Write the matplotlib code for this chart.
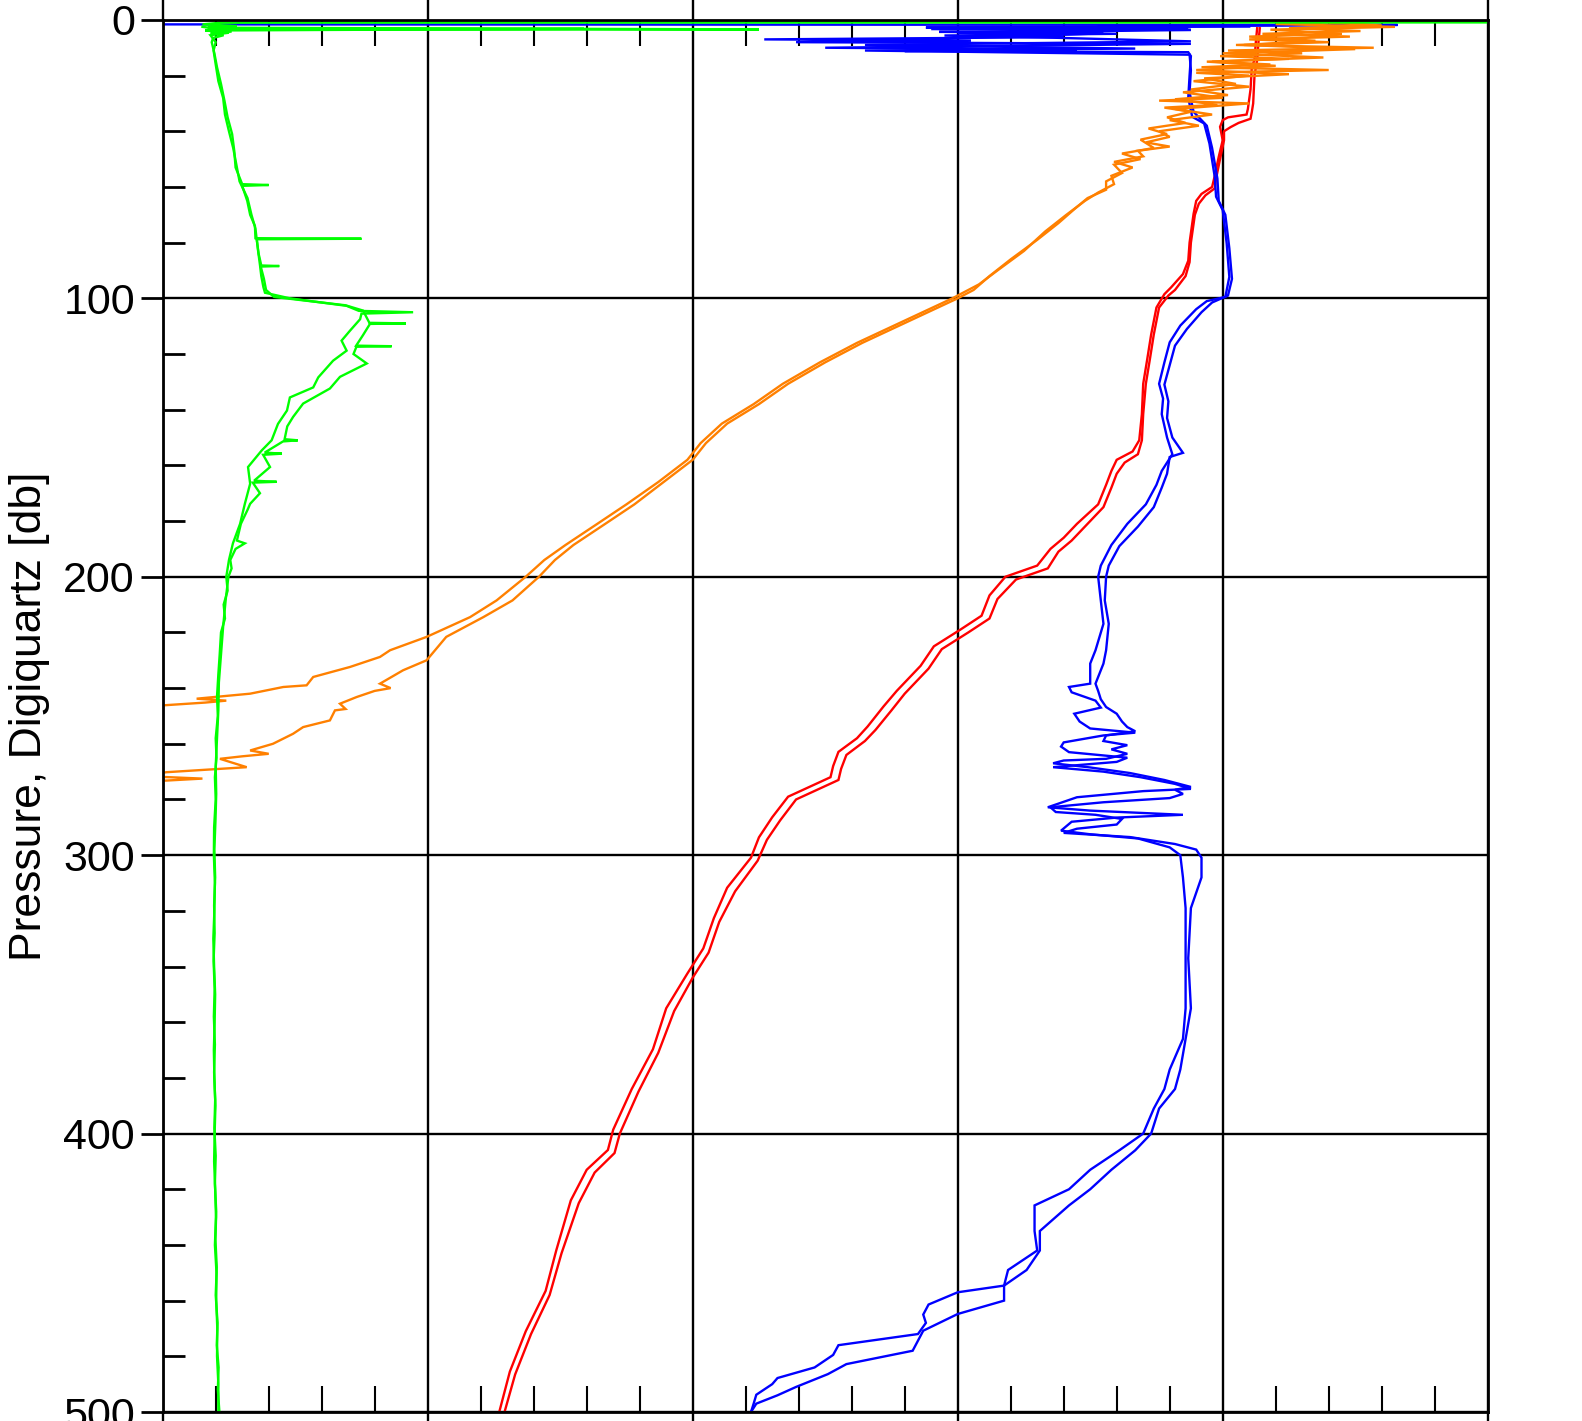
"""CTD cast: several sensor profiles against pressure (down- and upcast)."""

import matplotlib

matplotlib.use("Agg")
import matplotlib.pyplot as plt
import numpy as np
from matplotlib.ticker import MultipleLocator

plt.rcParams["font.family"] = ["Liberation Sans", "DejaVu Sans"]

# x values are in plot units (0..50, one grid division = 10); axis labels are off-frame
# each list holds (pressure [db], value) pairs

green_down = [
    (0.3, 55.0), (0.9, 55.0), (1.0, 2.2), (1.6, 1.5), (2.2, 2.8), (2.8, 1.7),
    (3.4, 22.5), (3.6, 1.9), (4.2, 2.6), (4.8, 1.8), (5.5, 2.3), (6.5, 1.9),
    (8, 1.85), (12, 1.95), (17, 2.05), (23, 2.2), (29, 2.33), (35, 2.45),
    (41, 2.62), (47, 2.7), (53, 2.75), (59, 3.0), (59.3, 4.0), (59.6, 3.0),
    (65, 3.19), (70, 3.3), (74, 3.48), (78.4, 3.5), (78.6, 7.5), (78.8, 3.55),
    (83, 3.6), (88, 3.67), (92, 3.72), (96, 3.8), (98, 3.86), (100, 4.8),
    (102.7, 6.94), (104.5, 7.4), (105, 9.45), (105.5, 7.5), (107.5, 7.45),
    (111.6, 7.07), (115.2, 6.75), (118.8, 6.94), (122.4, 6.43), (128.4, 5.87),
    (132, 5.68), (135.6, 4.8), (140.3, 4.69), (145.1, 4.35), (151, 4.11),
    (154.6, 3.74), (160.6, 3.22), (166.6, 3.3), (173.8, 3.1), (181, 2.92),
    (188, 2.65), (194, 2.5), (200, 2.4), (205, 2.45), (210, 2.3), (215, 2.35),
    (220, 2.2), (228, 2.15), (235, 2.1), (243, 2.05), (250, 2.08), (258, 2.0),
    (265, 2.03), (272, 1.97), (280, 2.0), (290, 1.94), (300, 1.93), (310, 1.97),
    (320, 1.95), (330, 1.91), (340, 1.94), (350, 1.98), (360, 1.96), (370, 1.93),
    (380, 1.95), (390, 1.99), (400, 1.96), (410, 1.94), (420, 1.98), (430, 2.01),
    (440, 1.97), (450, 2.03), (460, 2.02), (470, 2.06), (480, 2.05), (490, 2.1),
    (500, 2.1),
]

green_up = [
    (500, 2.14), (492, 2.08), (484, 2.11), (476, 2.04), (468, 2.07), (458, 2.0),
    (448, 2.04), (438, 1.99), (428, 2.02), (418, 1.97), (408, 2.0), (398, 1.95),
    (388, 1.98), (378, 1.94), (368, 1.97), (358, 1.93), (348, 1.96), (338, 1.92),
    (328, 1.96), (318, 1.94), (308, 1.98), (298, 1.95), (288, 1.99), (278, 2.02),
    (268, 2.0), (258, 2.05), (248, 2.1), (238, 2.12), (228, 2.2), (218, 2.28),
    (208, 2.38), (200, 2.48), (197, 2.6), (194, 2.55), (190, 2.75), (188, 3.1),
    (187, 2.8), (181, 2.95), (176, 3.2), (173.8, 3.3), (170, 3.67), (166.2, 3.4),
    (165.9, 4.3), (165.5, 3.45), (160.6, 4.05), (156.2, 3.79), (155.8, 4.5),
    (155.4, 3.85), (151.4, 4.54), (151, 5.1), (150.6, 4.6), (146, 4.7),
    (142.6, 4.92), (137.8, 5.3), (132.4, 6.31), (128.2, 6.69), (123.4, 7.7),
    (120, 7.2), (117.4, 7.31), (117.2, 8.64), (117, 7.3), (113.2, 7.56),
    (109.2, 7.82), (109, 9.18), (108.8, 7.8), (104.4, 7.56), (102.5, 6.9),
    (100.6, 5.18), (99.5, 4.2), (97, 3.9), (93, 3.82), (88.6, 3.7), (88.4, 4.4),
    (88.2, 3.72), (84, 3.62), (79, 3.55), (75, 3.5), (70, 3.35), (64, 3.2),
    (58, 2.9), (52, 2.78), (46, 2.66), (40, 2.5), (34, 2.35), (28, 2.28),
    (22, 2.1), (16, 2.0), (11, 1.92), (8, 2.0), (5.5, 1.8), (4.6, 2.5),
    (3.8, 1.6), (3.2, 15.9), (3.0, 1.9), (2.5, 1.5),
]

orange_a = [
    (0.6, 46.8), (1.0, 44.0), (2.0, 46.0), (3.0, 42.5), (4.0, 45.2), (5.0, 41.5),
    (6.0, 44.8), (7.0, 41.0), (8.0, 44.0), (9.0, 40.5), (10.0, 45.7), (11.0, 40.2),
    (12.0, 43.0), (13.0, 39.9), (14.0, 42.5), (15.0, 39.6), (16.0, 41.8),
    (17.0, 39.2), (18.0, 44.0), (19.0, 39.0), (20.0, 41.0), (22, 38.9),
    (24, 41.0), (26, 38.5), (28, 40.0), (29, 37.6), (30, 41.0), (32, 38.2),
    (34, 39.6), (36, 38.0), (38, 39.1), (40, 37.6), (42, 38.0), (44, 37.1),
    (45.5, 38.0), (47, 36.8), (49, 37.0), (51, 35.9), (53, 36.6), (56, 35.8),
    (59, 35.9), (62, 35.3), (65, 34.8), (70, 34.1), (76, 33.3), (83, 32.5),
    (90, 31.5), (95, 30.8), (100, 29.8), (108, 28.0), (116, 26.2), (123, 24.8),
    (130.7, 23.4), (138, 22.3), (145, 21.1), (152, 20.3), (158, 19.8),
    (166, 18.7), (174, 17.5), (181, 16.4), (188.6, 15.2), (194, 14.4),
    (200, 13.7), (208.5, 12.6), (214.5, 11.6), (221.6, 9.96), (226.4, 8.58),
    (228.8, 8.2), (232.4, 7.07), (236, 5.68), (239, 5.43), (239.6, 4.55),
    (242, 3.3), (243.8, 1.28), (244.5, 2.4), (245.2, 1.6), (246.2, 0.0),
    (247, -2.0),
]

orange_b = [
    (0.5, 45.5), (1.5, 42.0), (2.5, 46.5), (3.5, 41.8), (5.0, 44.5), (6.0, 41.0),
    (7.5, 43.5), (9.0, 40.8), (10.5, 45.0), (12.0, 40.0), (13.5, 43.8),
    (15.0, 39.4), (16.5, 42.0), (18.0, 39.0), (19.5, 42.5), (21, 39.3),
    (23, 40.5), (25, 38.8), (27, 40.2), (28.5, 38.2), (30.5, 39.8), (31.5, 37.8),
    (33, 38.8), (35, 37.9), (37, 38.6), (39, 37.2), (41, 37.9), (43, 36.9),
    (46, 37.4), (48, 36.2), (50, 36.9), (52, 35.9), (55, 36.2), (58, 35.6),
    (61, 35.6), (64, 34.9), (68, 34.4), (73, 33.8), (79, 33.0), (86, 32.0),
    (92, 31.2), (97, 30.6), (100, 30.0), (108, 28.2), (116, 26.4), (123, 25.0),
    (130.7, 23.6), (138, 22.5), (145, 21.3), (152, 20.5), (158, 20.0),
    (166, 18.9), (174, 17.8), (181, 16.7), (188.6, 15.5), (194, 14.8),
    (200, 14.2), (208.5, 13.2), (214.5, 12.1), (221.6, 10.7), (230, 9.96),
    (233.6, 9.07), (238.4, 8.2), (240, 8.6), (241, 8.0), (243.2, 7.32),
    (245.6, 6.69), (247.5, 6.9), (248, 6.5), (251.6, 6.31), (254, 5.3),
    (256.4, 4.92), (260, 4.16), (262.4, 3.3), (263.6, 4.0), (264.5, 3.0),
    (265.4, 2.16), (268.4, 3.17), (270.2, 0.15), (271.5, -1.0), (272.5, 1.5),
    (273.8, -1.0),
]

red_a = [
    (3, 41.3), (8, 41.25), (14.4, 41.2), (16.8, 41.1), (25, 41.05), (32, 40.95),
    (34, 40.9), (35, 40.2), (36, 40.0), (38.4, 39.9), (43.2, 40.0), (49.2, 39.85),
    (56, 39.7), (60, 39.6), (62.5, 39.2), (65, 39.0), (69.7, 38.9), (80, 38.75),
    (86.5, 38.7), (91.3, 38.5), (96.1, 38.05), (98.5, 37.8), (103.3, 37.5),
    (113, 37.3), (122, 37.15), (130.7, 37.0), (141.6, 36.95), (151, 36.85),
    (155, 36.6), (158, 36.0), (162, 35.8), (167, 35.6), (174, 35.3), (181, 34.5),
    (186, 34.0), (190, 33.5), (196, 33.0), (200, 31.8), (206.7, 31.2),
    (214, 30.9), (219, 30.1), (225, 29.1), (232, 28.6), (241, 27.7),
    (246.6, 27.2), (253.8, 26.6), (258, 26.2), (262.9, 25.5), (268, 25.3),
    (272, 25.2), (279, 23.6), (286.4, 23.0), (293.6, 22.5), (300.9, 22.2),
    (311.7, 21.3), (322.6, 20.8), (333.5, 20.4), (342.5, 19.8), (355, 19.0),
    (369.7, 18.5), (384, 17.7), (398.6, 17.0), (405.9, 16.8), (413, 16.0),
    (424, 15.4), (442, 14.85), (456.5, 14.45), (471, 13.7), (485.5, 13.1),
    (500, 12.7),
]

red_b = [
    (3, 41.4), (8, 41.35), (14.4, 41.3), (20, 41.2), (30, 41.15), (33, 41.1),
    (35.5, 41.05), (37, 40.6), (38.5, 40.3), (40, 40.05), (43.2, 40.05),
    (50, 39.9), (57, 39.75), (60.5, 39.7), (63, 39.35), (66, 39.1), (70, 38.95),
    (80, 38.8), (87, 38.75), (92, 38.6), (97, 38.2), (99, 37.95), (103.3, 37.6),
    (113, 37.4), (122, 37.25), (130.7, 37.1), (141.6, 37.0), (151, 36.95),
    (156, 36.8), (159, 36.3), (163, 36.0), (168, 35.8), (175, 35.5), (182, 34.8),
    (187, 34.3), (191, 33.8), (197, 33.4), (201, 32.2), (208, 31.5), (215, 31.2),
    (220, 30.4), (226, 29.4), (233, 28.9), (242, 28.0), (248, 27.5), (255, 26.9),
    (259, 26.5), (264, 25.8), (269, 25.6), (273, 25.5), (280, 23.9),
    (287.5, 23.3), (294.5, 22.8), (302, 22.45), (313, 21.6), (324, 21.0),
    (335, 20.6), (344, 20.0), (356, 19.3), (371, 18.7), (385, 17.95),
    (400, 17.25), (407, 17.05), (414, 16.3), (425, 15.7), (443, 15.05),
    (458, 14.6), (472, 13.9), (486.5, 13.3), (500, 12.9),
]

blue_a = [
    (1.6, -2.0), (1.8, 46.6), (2.2, 39.0), (3.3, 29.0), (3.6, 38.8), (4.2, 33.9),
    (4.6, 30.0), (5.0, 36.0), (5.6, 29.5), (6.2, 34.0), (7.0, 22.7), (7.4, 30.5),
    (8.0, 23.9), (8.6, 38.8), (10.0, 25.0), (10.6, 34.5), (11.2, 28.0),
    (11.6, 38.7), (13, 38.8), (20, 38.75), (28, 38.7), (34.8, 38.85),
    (37.2, 39.3), (44.4, 39.5), (56.4, 39.7), (63.5, 39.75), (68.3, 40.0),
    (80.3, 40.15), (92.3, 40.25), (99.5, 40.1), (101, 39.4), (103.9, 39.0),
    (109.8, 38.4), (115.8, 38.0), (123, 37.8), (130.7, 37.6), (136, 37.75),
    (141.6, 37.7), (150, 37.9), (156, 38.1), (162, 37.7), (167, 37.5),
    (174, 37.1), (181, 36.4), (188.6, 35.8), (196, 35.4), (200, 35.3),
    (208.5, 35.4), (216.9, 35.5), (226.4, 35.2), (231.2, 35.0), (238.4, 35.0),
    (239.6, 34.2), (241.5, 34.3), (244.5, 35.2), (247, 35.4), (249.2, 34.4),
    (252, 34.6), (254.5, 35.0), (256, 36.7), (257, 35.5), (259.5, 34.0),
    (261, 33.9), (263, 34.2), (265, 36.4), (266.5, 36.0), (268.4, 33.6),
    (270, 35.5), (272, 36.9), (274.4, 38.2), (276.2, 38.8), (277, 37.0),
    (279.2, 34.5), (282.8, 33.4), (284, 35.0), (285.5, 38.5), (286.5, 36.0),
    (288, 34.3), (291.2, 33.9), (292.5, 35.0), (294, 36.8), (297.2, 38.0),
    (300, 38.4), (308, 38.5), (319, 38.6), (337, 38.6), (355, 38.6), (366, 38.5),
    (377, 38.0), (384, 37.8), (391, 37.4), (400, 37.0), (406, 36.1), (413, 35.0),
    (420, 34.2), (425.8, 32.9), (435, 32.9), (442, 33.0), (449, 31.9),
    (454.6, 31.75), (457, 30.0), (461.4, 28.9), (465, 28.7), (468, 28.8),
    (472, 28.5), (476, 25.5), (479.5, 25.3), (484, 24.6), (487.8, 23.2),
    (490, 23.0), (493.8, 22.4), (497, 22.3), (500, 22.2),
]

blue_b = [
    (2.4, 41.0), (2.8, 28.8), (3.1, 38.7), (3.9, 33.6), (4.3, 29.3), (4.8, 35.5),
    (6.0, 32.0), (7.7, 38.8), (9.0, 26.5), (10.3, 36.7), (11.0, 26.5),
    (12.5, 38.75), (18, 38.8), (26, 38.75), (33, 38.9), (38, 39.4), (46, 39.6),
    (57, 39.8), (65, 39.85), (70, 40.1), (82, 40.25), (93, 40.35), (99, 40.2),
    (101.5, 39.6), (105, 39.2), (111, 38.65), (117, 38.2), (124, 38.0),
    (131, 37.8), (137, 37.95), (143, 37.9), (150, 38.1), (155.5, 38.5),
    (157, 38.0), (163, 37.9), (168, 37.7), (175, 37.4), (182, 36.8),
    (189, 36.1), (196, 35.7), (200, 35.6), (208.5, 35.55), (216.9, 35.7),
    (226.4, 35.6), (231.2, 35.5), (238.4, 35.2), (241, 35.3), (244, 35.4),
    (246.8, 35.6), (249.2, 36.0), (252, 36.2), (254, 36.4), (255.5, 36.7),
    (257, 35.6), (259, 35.5), (260.5, 36.4), (262, 35.8), (263.6, 36.4),
    (265.4, 35.6), (266, 34.0), (267, 33.6), (268.5, 35.0), (270.5, 36.5),
    (273, 37.8), (275.5, 38.8), (276.5, 38.2), (278, 38.5), (279.5, 38.0),
    (281, 35.5), (282.8, 33.5), (284.5, 33.7), (285.5, 35.2), (287, 36.2),
    (289, 36.0), (290.5, 34.5), (292, 34.0), (293.5, 36.5), (296, 38.2),
    (298, 39.0), (300.9, 39.2), (308, 39.2), (319, 38.8), (337, 38.7),
    (355, 38.8), (366, 38.6), (377, 38.4), (384, 38.2), (391, 37.6), (400, 37.3),
    (406, 36.7), (413, 35.8), (420, 35.0), (425.8, 34.2), (435, 33.1),
    (442, 33.1), (449, 32.6), (454.6, 31.75), (460, 31.75), (464.8, 30.0),
    (470.8, 28.7), (478, 28.3), (482.8, 25.8), (486.4, 25.1), (491, 23.9),
    (494, 23.2), (497, 22.4), (500, 22.2),
]

y_major = [0, 100, 200, 300, 400, 500]

W, H, DPI = 1582, 1421, 100
fig = plt.figure(figsize=(W / DPI, H / DPI), dpi=DPI)
ax = fig.add_axes([162.7 / W, 1 - 1412 / H, 1325 / W, (1412 - 19.9) / H])


def draw(pairs, color):
    p, x = np.array(pairs).T
    ax.plot(x, p, color=color, lw=1.7, solid_joinstyle="miter")


for trace in (red_a, red_b):
    draw(trace, "#ff0000")
for trace in (blue_a, blue_b):
    draw(trace, "#0000ff")
for trace in (orange_a, orange_b):
    draw(trace, "#ff8000")
for trace in (green_down, green_up):
    draw(trace, "#00ff00")

ax.set_xlim(0, 50)
ax.set_ylim(500, 0)
ax.xaxis.set_major_locator(MultipleLocator(10))
ax.xaxis.set_minor_locator(MultipleLocator(2))
ax.set_yticks(y_major)
ax.yaxis.set_minor_locator(MultipleLocator(20))
ax.grid(True, which="major", color="black", lw=1.7)
ax.set_axisbelow(True)

for side in ("top", "bottom", "left", "right"):
    ax.spines[side].set_linewidth(2.0)

ax.tick_params(axis="x", which="major", direction="out", length=19, width=1.7,
               top=True, bottom=True, labeltop=False, labelbottom=False)
ax.tick_params(axis="x", which="minor", direction="in", length=19, width=1.5,
               top=True, bottom=True)
ax.tick_params(axis="y", which="major", direction="out", length=16, width=2.0,
               left=True, right=False, labelsize=31, pad=4)
ax.tick_params(axis="y", which="minor", direction="in", length=16, width=2.0,
               left=True, right=False)

fig.text(30 / W, 1 - 716 / H, "Pressure, Digiquartz [db]", rotation=90,
         ha="center", va="center", fontsize=32)

fig.savefig("out.png", dpi=DPI)
plt.close(fig)
